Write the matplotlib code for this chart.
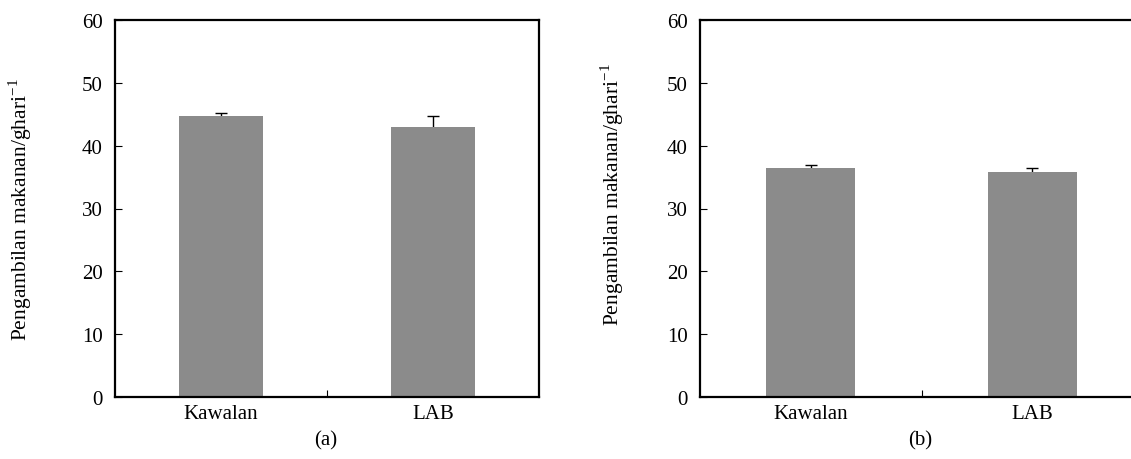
import matplotlib
matplotlib.use("Agg")
import matplotlib.pyplot as plt

plt.rcParams['font.family'] = ['Liberation Serif', 'DejaVu Serif']
plt.rcParams['mathtext.fontset'] = 'stix'

categories = ["Kawalan", "LAB"]
values_a = [44.8, 43.0]
errors_a = [0.4, 1.7]
values_b = [36.5, 35.8]
errors_b = [0.4, 0.6]
yticks = [0, 10, 20, 30, 40, 50, 60]
panel_labels = ["(a)", "(b)"]
ylabel = "Pengambilan makanan/ghari$^{\\mathregular{-1}}$"

W, H = 1131, 460
fig = plt.figure(figsize=(W / 100, H / 100), dpi=100)

def px_axes(l, r, t, b):
    return fig.add_axes([l / W, 1 - b / H, (r - l) / W, (b - t) / H])

ax_a = px_axes(115, 539, 21, 398)
ax_b = px_axes(700, 1143, 21, 398)

for ax, vals, errs, ylx, yly in [(ax_a, values_a, errors_a, 20, 210),
                                  (ax_b, values_b, errors_b, 612, 195)]:
    x = list(range(len(categories)))
    ax.bar(x, vals, width=0.4, color='#8b8b8b', edgecolor='none', zorder=2)
    ax.errorbar(x, vals, yerr=errs, fmt='none', ecolor='black',
                elinewidth=1.0, capsize=4, capthick=1.0, zorder=1)
    ax.set_xlim(-0.5, 1.5)
    ax.set_ylim(0, 60)
    ax.set_yticks(yticks)
    ax.set_xticks(x)
    ax.set_xticklabels(categories, fontsize=15)
    ax.set_xticks([0.5], minor=True)
    ax.tick_params(axis='x', which='major', length=0, pad=5)
    ax.tick_params(axis='x', which='minor', direction='in', length=5, width=0.8)
    ax.tick_params(axis='y', direction='in', length=5, width=0.8, labelsize=15, pad=9)
    for s in ax.spines.values():
        s.set_linewidth(1.6)
    fig.text(ylx / W, 1 - yly / H, ylabel, rotation=90, ha='center', va='center',
             fontsize=15.5)

fig.text(326 / W, 1 - 441 / H, panel_labels[0], ha='center', va='center', fontsize=15)
fig.text(920 / W, 1 - 441 / H, panel_labels[1], ha='center', va='center', fontsize=15)

fig.savefig("out.png", dpi=100)
